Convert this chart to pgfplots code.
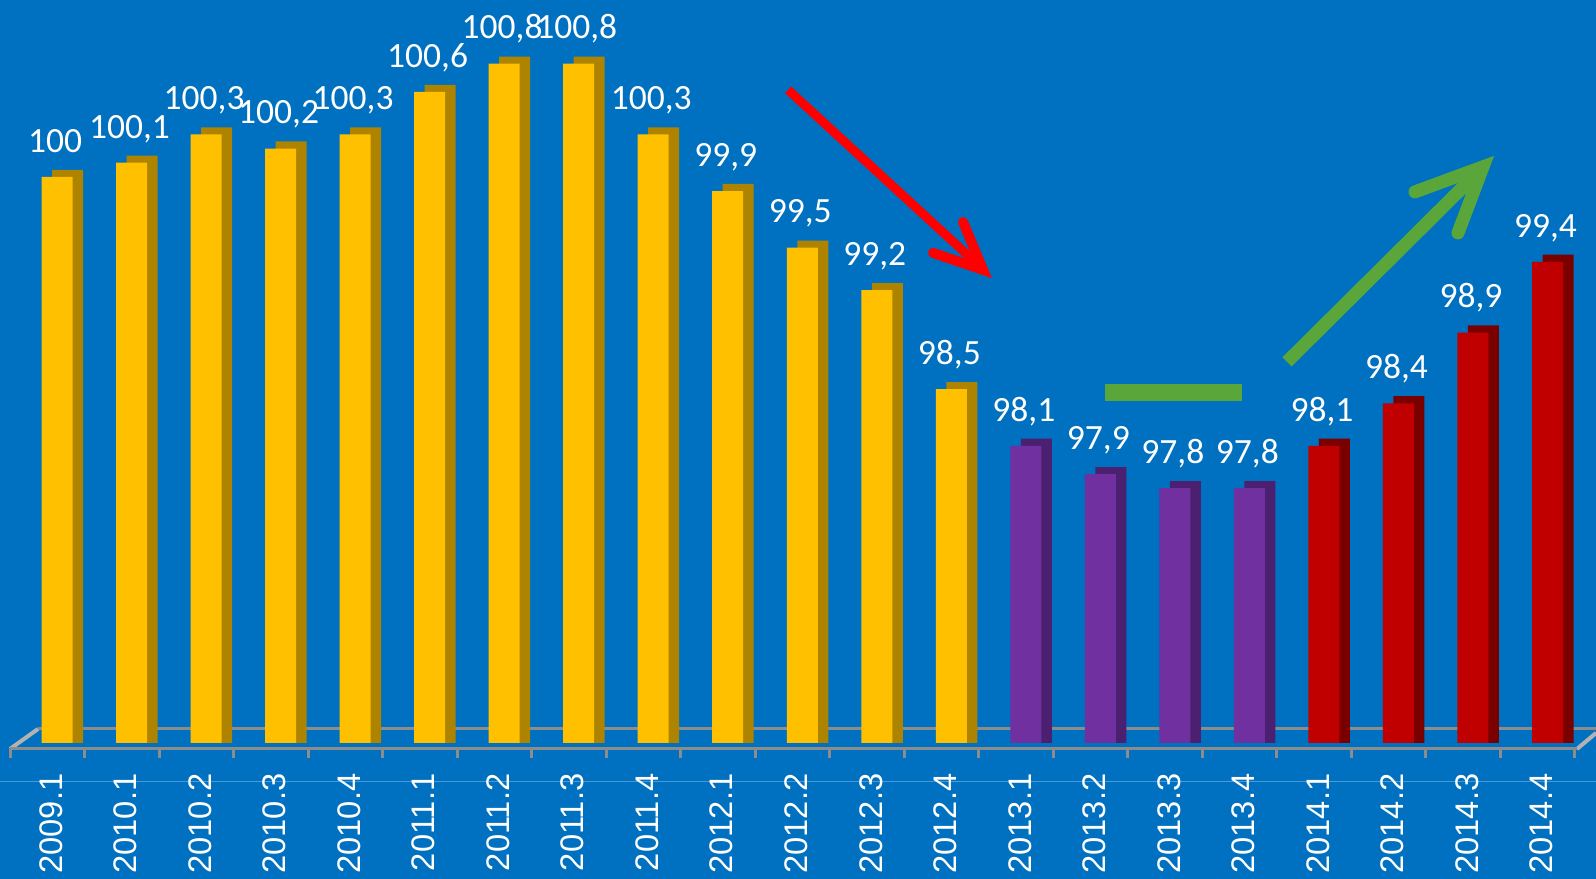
\documentclass[border=0pt]{standalone}
\usepackage{pgfplots}
\pgfplotsset{compat=1.18}
\usepackage{pgfplotstable}
\usepackage{fontspec}
\setmainfont{Liberation Sans}
\newfontfamily\calib{Carlito}
\newcommand{\tl}[1]{\mbox{\rmfamily #1}}
\definecolor{bg}{HTML}{0070C0}
\definecolor{yel}{HTML}{FFC000}
\definecolor{yelside}{HTML}{AE8300}
\definecolor{pur}{HTML}{7030A0}
\definecolor{purside}{HTML}{4B2070}
\definecolor{red1}{HTML}{C00000}
\definecolor{redside}{HTML}{7A0000}
\definecolor{floor}{HTML}{8C8C8C}
\definecolor{grn}{HTML}{5AA63A}
\definecolor{faint}{HTML}{4A9AD8}

\pgfplotstableread{
x v
0 100
1 100.1
2 100.3
3 100.2
4 100.3
5 100.6
6 100.8
7 100.8
8 100.3
9 99.9
10 99.5
11 99.2
12 98.5
}\yellowdata
\pgfplotstableread{
x v
13 98.1
14 97.9
15 97.8
16 97.8
}\purpledata
\pgfplotstableread{
x v
17 98.1
18 98.4
19 98.9
20 99.4
}\reddata

\begin{document}
\begin{tikzpicture}
\fill[bg] (0,0) rectangle (478.8pt,263.7pt);
\draw[faint, line width=0.3pt] (0,29.2pt) -- (478.8pt,29.2pt);
% floor (back line and side edges)
\draw[floor, line width=0.9pt] (11.4pt,45pt) -- (478.8pt,45pt);
\draw[black!30, line width=1.2pt] (3pt,39pt) -- (11.4pt,45pt);
\draw[black!30, line width=1.2pt] (473.1pt,39pt) -- (478.8pt,43.8pt);
\begin{axis}[
  at={(0pt,40.8pt)}, anchor=south west,
  scale only axis, width=478.8pt, height=222.9pt,
  xmin=-0.765, xmax=20.651, ymin=96, ymax=101.25,
  axis line style={draw=none}, tick style={draw=none},
  ytick=\empty,
  xtick={0,...,20},
  xticklabels={\tl{2009.1},\tl{2010.1},\tl{2010.2},\tl{2010.3},\tl{2010.4},\tl{2011.1},\tl{2011.2},\tl{2011.3},\tl{2011.4},\tl{2012.1},\tl{2012.2},\tl{2012.3},\tl{2012.4},\tl{2013.1},\tl{2013.2},\tl{2013.3},\tl{2013.4},\tl{2014.1},\tl{2014.2},\tl{2014.3},\tl{2014.4}},
  xticklabel style={font=\rmfamily\fontsize{9.8}{10}\selectfont, text=white, xshift=-1.8pt, rotate=90, anchor=east, inner sep=0pt},
  xticklabel shift=9pt,
  /pgf/number format/.cd, use comma, fixed, precision=1, assume math mode=true,
  /pgfplots/.cd,
  nodes near coords style={font=\calib\fontsize{10.65}{12}\selectfont, text=white, anchor=base, inner sep=0pt, yshift=7.4pt, xshift=-0.6pt},
]
% side/top faces (drawn behind)
\addplot[ybar, bar width=9.3pt, bar shift=3.15pt, fill=yelside, draw=none] table[x=x, y expr=\thisrow{v}+0.05] {\yellowdata};
\addplot[ybar, bar width=9.3pt, bar shift=3.15pt, fill=purside, draw=none] table[x=x, y expr=\thisrow{v}+0.05] {\purpledata};
\addplot[ybar, bar width=9.3pt, bar shift=3.15pt, fill=redside, draw=none] table[x=x, y expr=\thisrow{v}+0.05] {\reddata};
% front faces
\addplot[ybar, bar width=9.3pt, bar shift=0pt, fill=yel, draw=none, nodes near coords] table[x=x, y=v] {\yellowdata};
\addplot[ybar, bar width=9.3pt, bar shift=0pt, fill=pur, draw=none, nodes near coords] table[x=x, y=v] {\purpledata};
\addplot[ybar, bar width=9.3pt, bar shift=0pt, fill=red1, draw=none, nodes near coords] table[x=x, y=v] {\reddata};
% annotations
\draw[red, line width=2.7pt, line cap=butt] (axis cs:9.81,100.615) -- (axis cs:12.40,99.36);
\draw[red, line width=3.0pt, line cap=round, line join=miter] (axis cs:12.157,99.682) -- (axis cs:12.425,99.343) -- (axis cs:11.755,99.463);
\draw[grn, line width=5.1pt, line cap=butt] (axis cs:14.063,98.477) -- (axis cs:15.901,98.477);
\draw[grn, line width=3.9pt, line cap=butt] (axis cs:16.505,98.693) -- (axis cs:19.10,100.05);
\draw[grn, line width=3.9pt, line cap=round, line join=miter] (axis cs:18.222,99.894) -- (axis cs:19.135,100.071) -- (axis cs:18.799,99.604);
\end{axis}
% front floor line and ticks
\draw[floor, line width=0.9pt] (3pt,39pt) -- (473.1pt,39pt);
\foreach \k in {0,...,21} {
  \draw[floor, line width=0.9pt] ({3pt+22.35pt*\k},39pt) -- ({3pt+22.35pt*\k},36.3pt);
}
\pgfresetboundingbox
\path (0,0) rectangle (478.8pt,263.7pt);
\end{tikzpicture}
\end{document}
